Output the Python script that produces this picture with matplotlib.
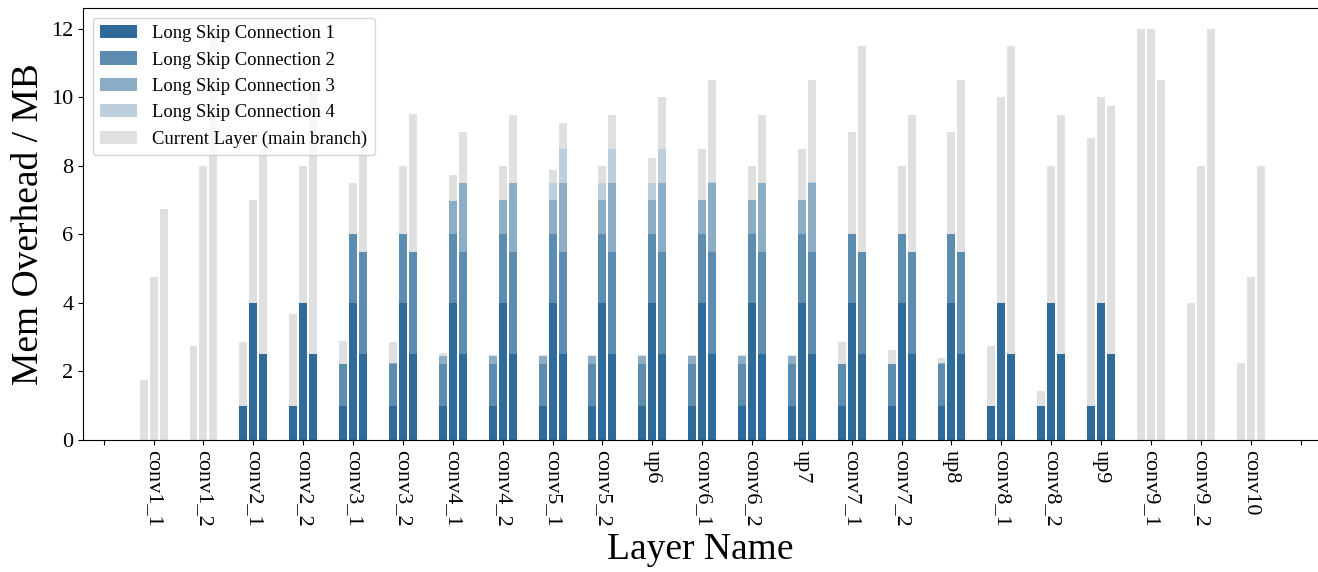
#!/usr/bin/env python
# -*- coding: utf8 -*-

# Memory overhead per layer, split into long skip connections and the main branch

# -----------------------------------------------------------------

import numpy as np
import matplotlib
matplotlib.use("Agg")
import matplotlib.pyplot as plt

# -----------------------------------------------------------------

layers = ["conv1_1", "conv1_2", "conv2_1", "conv2_2", "conv3_1", "conv3_2",
          "conv4_1", "conv4_2", "conv5_1", "conv5_2", "up6", "conv6_1",
          "conv6_2", "up7", "conv7_1", "conv7_2", "up8", "conv8_1",
          "conv8_2", "up9", "conv9_1", "conv9_2", "conv10"]

# three bars per layer, segment heights in MB
lsc1 = [(0, 0, 0), (0, 0, 0), (1, 4, 2.5), (1, 4, 2.5), (1, 4, 2.5), (1, 4, 2.5),
        (1, 4, 2.5), (1, 4, 2.5), (1, 4, 2.5), (1, 4, 2.5), (1, 4, 2.5), (1, 4, 2.5),
        (1, 4, 2.5), (1, 4, 2.5), (1, 4, 2.5), (1, 4, 2.5), (1, 4, 2.5), (1, 4, 2.5),
        (1, 4, 2.5), (1, 4, 2.5), (0, 0, 0), (0, 0, 0), (0, 0, 0)]

lsc2 = [(0, 0, 0), (0, 0, 0), (0, 0, 0), (0, 0, 0), (1.22, 2, 3), (1.22, 2, 3),
        (1.22, 2, 3), (1.22, 2, 3), (1.22, 2, 3), (1.22, 2, 3), (1.22, 2, 3), (1.22, 2, 3),
        (1.22, 2, 3), (1.22, 2, 3), (1.22, 2, 3), (1.22, 2, 3), (1.22, 2, 3), (0, 0, 0),
        (0, 0, 0), (0, 0, 0), (0, 0, 0), (0, 0, 0), (0, 0, 0)]

lsc3 = [(0, 0, 0), (0, 0, 0), (0, 0, 0), (0, 0, 0), (0, 0, 0), (0.03, 0, 0),
        (0.23, 0.98, 2), (0.23, 1, 2), (0.23, 1, 2), (0.23, 1, 2), (0.23, 1, 2), (0.23, 1, 2),
        (0.23, 1, 2), (0.23, 1, 2), (0, 0, 0), (0, 0, 0), (0.03, 0, 0), (0, 0, 0),
        (0, 0, 0), (0, 0, 0), (0, 0, 0), (0, 0, 0), (0, 0, 0)]

lsc4 = [(0, 0, 0), (0, 0, 0), (0, 0, 0), (0, 0, 0), (0, 0, 0), (0, 0, 0),
        (0, 0, 0), (0, 0, 0), (0, 0.5, 1), (0, 0.5, 1), (0, 0.5, 1), (0, 0, 0.03),
        (0, 0, 0), (0, 0, 0.03), (0, 0, 0), (0, 0, 0), (0, 0, 0), (0, 0, 0),
        (0, 0, 0), (0, 0, 0), (0, 0, 0), (0, 0, 0), (0, 0, 0)]

current = [(1.75, 4.75, 6.75), (2.75, 8, 11.7), (1.87, 3, 6), (2.68, 4, 7.72),
           (0.67, 1.5, 3), (0.6, 2, 4.02), (0.09, 0.76, 1.5), (0.03, 1, 2),
           (0.03, 0.38, 0.76), (0.03, 0.5, 1), (0.03, 0.73, 1.5), (0.03, 1.5, 2.97),
           (0.03, 1, 2), (0.03, 1.5, 2.97), (0.64, 3, 6), (0.41, 2, 4),
           (0.14, 3, 5), (1.74, 6, 9), (0.43, 4, 7), (7.82, 6, 7.25),
           (12, 12, 10.5), (4, 8, 12), (2.25, 4.75, 8)]

labels = ["Long Skip Connection 1", "Long Skip Connection 2", "Long Skip Connection 3",
          "Long Skip Connection 4", "Current Layer (main branch)"]

# -----------------------------------------------------------------

colors = ["#2e6b9a", "#5d8cb1", "#8cadc6", "#bdcedc", "#e0e0e0"]
series = [np.array(s, dtype=float) for s in (lsc1, lsc2, lsc3, lsc4, current)]

plt.rcParams["font.family"] = ["Liberation Serif", "DejaVu Serif"]

fig = plt.figure(figsize=(13.18, 5.72), dpi=100)
ax = fig.add_axes([83.3 / 1318, 1 - 440 / 572, 1 - 83.3 / 1318, (440 - 8.4) / 572])

x = np.arange(1, len(layers) + 1)
offsets = [-0.2, 0.0, 0.2]
width = 0.16

for j, off in enumerate(offsets):
    bottom = np.zeros(len(layers))
    for s, color, label in zip(series, colors, labels):
        ax.bar(x + off, s[:, j], width, bottom=bottom, color=color,
               label=label if j == 0 else None, linewidth=0)
        bottom += s[:, j]

ax.set_xlim(-0.41, 24.35)
ax.set_ylim(0, 12.6)

ax.set_xticks(np.arange(0, len(layers) + 2))
ax.set_xticklabels([""] + layers + [""], rotation=-90, fontsize=16)
ax.tick_params(axis="y", labelsize=16)
ax.spines["right"].set_visible(False)

ax.set_xlabel("Layer Name", fontsize=27)
ax.set_ylabel("Mem Overhead / MB", fontsize=27)

ax.legend(loc="upper left", fontsize=13.4)

plt.savefig("out.png", dpi=100)
